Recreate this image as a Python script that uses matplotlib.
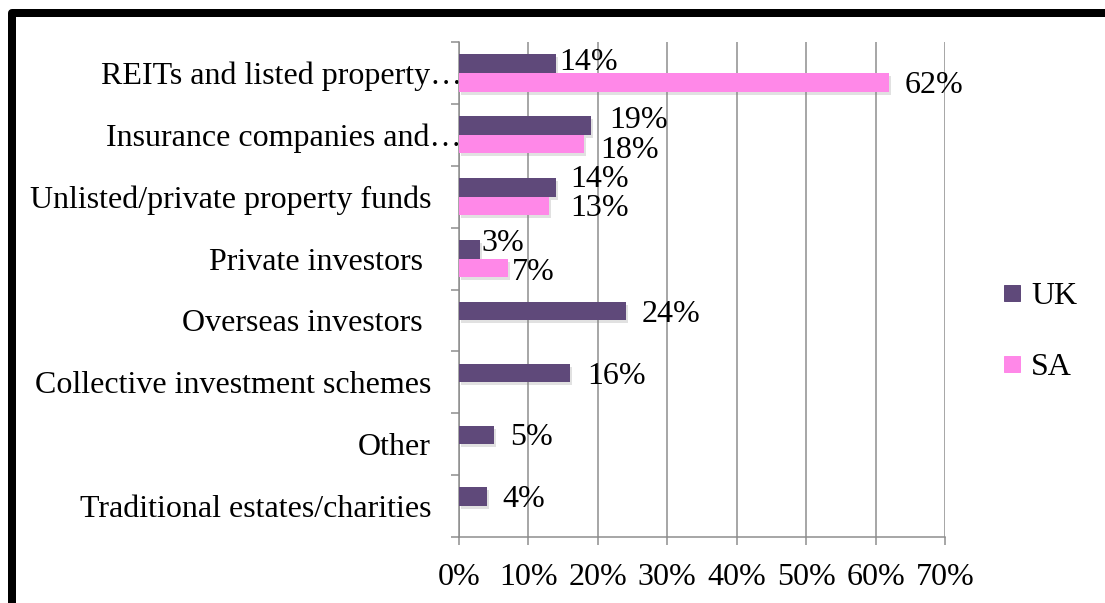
import numpy as np
import matplotlib
matplotlib.use("Agg")
import matplotlib.pyplot as plt
import matplotlib.patheffects as pe
from matplotlib.lines import Line2D
from matplotlib.transforms import ScaledTranslation

plt.rcParams['font.family'] = ['Liberation Serif', 'DejaVu Serif']

categories = ["REITs and listed property\u2026",
              "Insurance companies and\u2026",
              "Unlisted/private property funds",
              "Private investors ",
              "Overseas investors ",
              "Collective investment schemes",
              "Other",
              "Traditional estates/charities"]
uk = [14, 19, 14, 3, 24, 16, 5, 4]
sa = [62, 18, 13, 7, np.nan, np.nan, np.nan, np.nan]
x_ticks = [0, 10, 20, 30, 40, 50, 60, 70]

# label nudges (points): gap after bar end, vertical shift
uk_dx = [3, 18, 14, 2, 16, 17, 16, 16]
uk_dy = [1, 5, 8, 6, -3, -3, -3, -3]
sa_dx = [15, 16, 21, 4]
sa_dy = [-3, -6, -3, -5]

UK_COLOR = '#5F497A'
SA_COLOR = '#FF88E8'
GRID = '#8C8C8C'
FS = 32

W, H = 1105, 603
fig = plt.figure(figsize=(W / 72, H / 72), dpi=72)
ax = fig.add_axes([459 / W, 1 - 537 / H, (945 - 459) / W, (537 - 42) / H])

pos = np.arange(len(categories))
bh = 0.3
shadow = [pe.SimplePatchShadow(offset=(2, -3), shadow_rgbFace='#888888', alpha=0.25), pe.Normal()]
uk_bars = ax.barh(pos - bh / 2, uk, height=bh, color=UK_COLOR, zorder=3)
sa_bars = ax.barh(pos + bh / 2, np.nan_to_num(sa), height=bh, color=SA_COLOR, zorder=3)
for b in list(uk_bars) + list(sa_bars):
    if b.get_width() > 0:
        b.set_path_effects(shadow)

for i, v in enumerate(uk):
    ax.annotate(f"{v}%", (v, pos[i] - bh / 2), xytext=(uk_dx[i], uk_dy[i]),
                textcoords='offset points', va='center', ha='left', fontsize=FS, zorder=4)
for i, v in enumerate(sa):
    if np.isnan(v):
        continue
    ax.annotate(f"{v:.0f}%", (v, pos[i] + bh / 2), xytext=(sa_dx[i], sa_dy[i]),
                textcoords='offset points', va='center', ha='left', fontsize=FS, zorder=4)

ax.set_xlim(0, 70)
ax.set_ylim(len(categories) - 0.5, -0.5)
ax.set_xticks(x_ticks)
ax.set_xticklabels([f"{t}%" for t in x_ticks], fontsize=FS)
ax.set_yticks(pos)
ax.set_yticklabels(categories, fontsize=FS)
ax.set_yticks(np.arange(len(categories) + 1) - 0.5, minor=True)
ax.tick_params(axis='y', which='major', length=0, pad=28)
ax.tick_params(axis='y', which='minor', length=8, color=GRID, width=1.5)
ax.tick_params(axis='x', length=8, color=GRID, width=1.5, pad=18)
ax.grid(axis='x', color=GRID, linewidth=1.5, zorder=0)
ax.set_axisbelow(True)
for s in ['top', 'right']:
    ax.spines[s].set_visible(False)
for s in ['left', 'bottom']:
    ax.spines[s].set_color(GRID)
    ax.spines[s].set_linewidth(1.5)

# truncated labels sit right against the axis
for lbl in ax.get_yticklabels():
    if lbl.get_text().endswith('\u2026'):
        lbl.set_transform(lbl.get_transform() + ScaledTranslation(31 / 72, 0, fig.dpi_scale_trans))

handles = [Line2D([], [], marker='s', linestyle='', markersize=16, color=UK_COLOR),
           Line2D([], [], marker='s', linestyle='', markersize=16, color=SA_COLOR)]
fig.legend(handles, ['UK', 'SA'], loc='center left', bbox_to_anchor=(983 / W, 1 - 332 / H),
           frameon=False, fontsize=FS, labelspacing=1.3, handlelength=0.8,
           handletextpad=0.2, borderpad=0)

# thick frame on the top and left
fig.add_artist(Line2D([12 / W, 12 / W, 1.01], [-0.01, 1 - 13 / H, 1 - 13 / H],
                      transform=fig.transFigure, color='black', linewidth=8,
                      solid_joinstyle='round'))

fig.savefig('out.png', dpi=72)
